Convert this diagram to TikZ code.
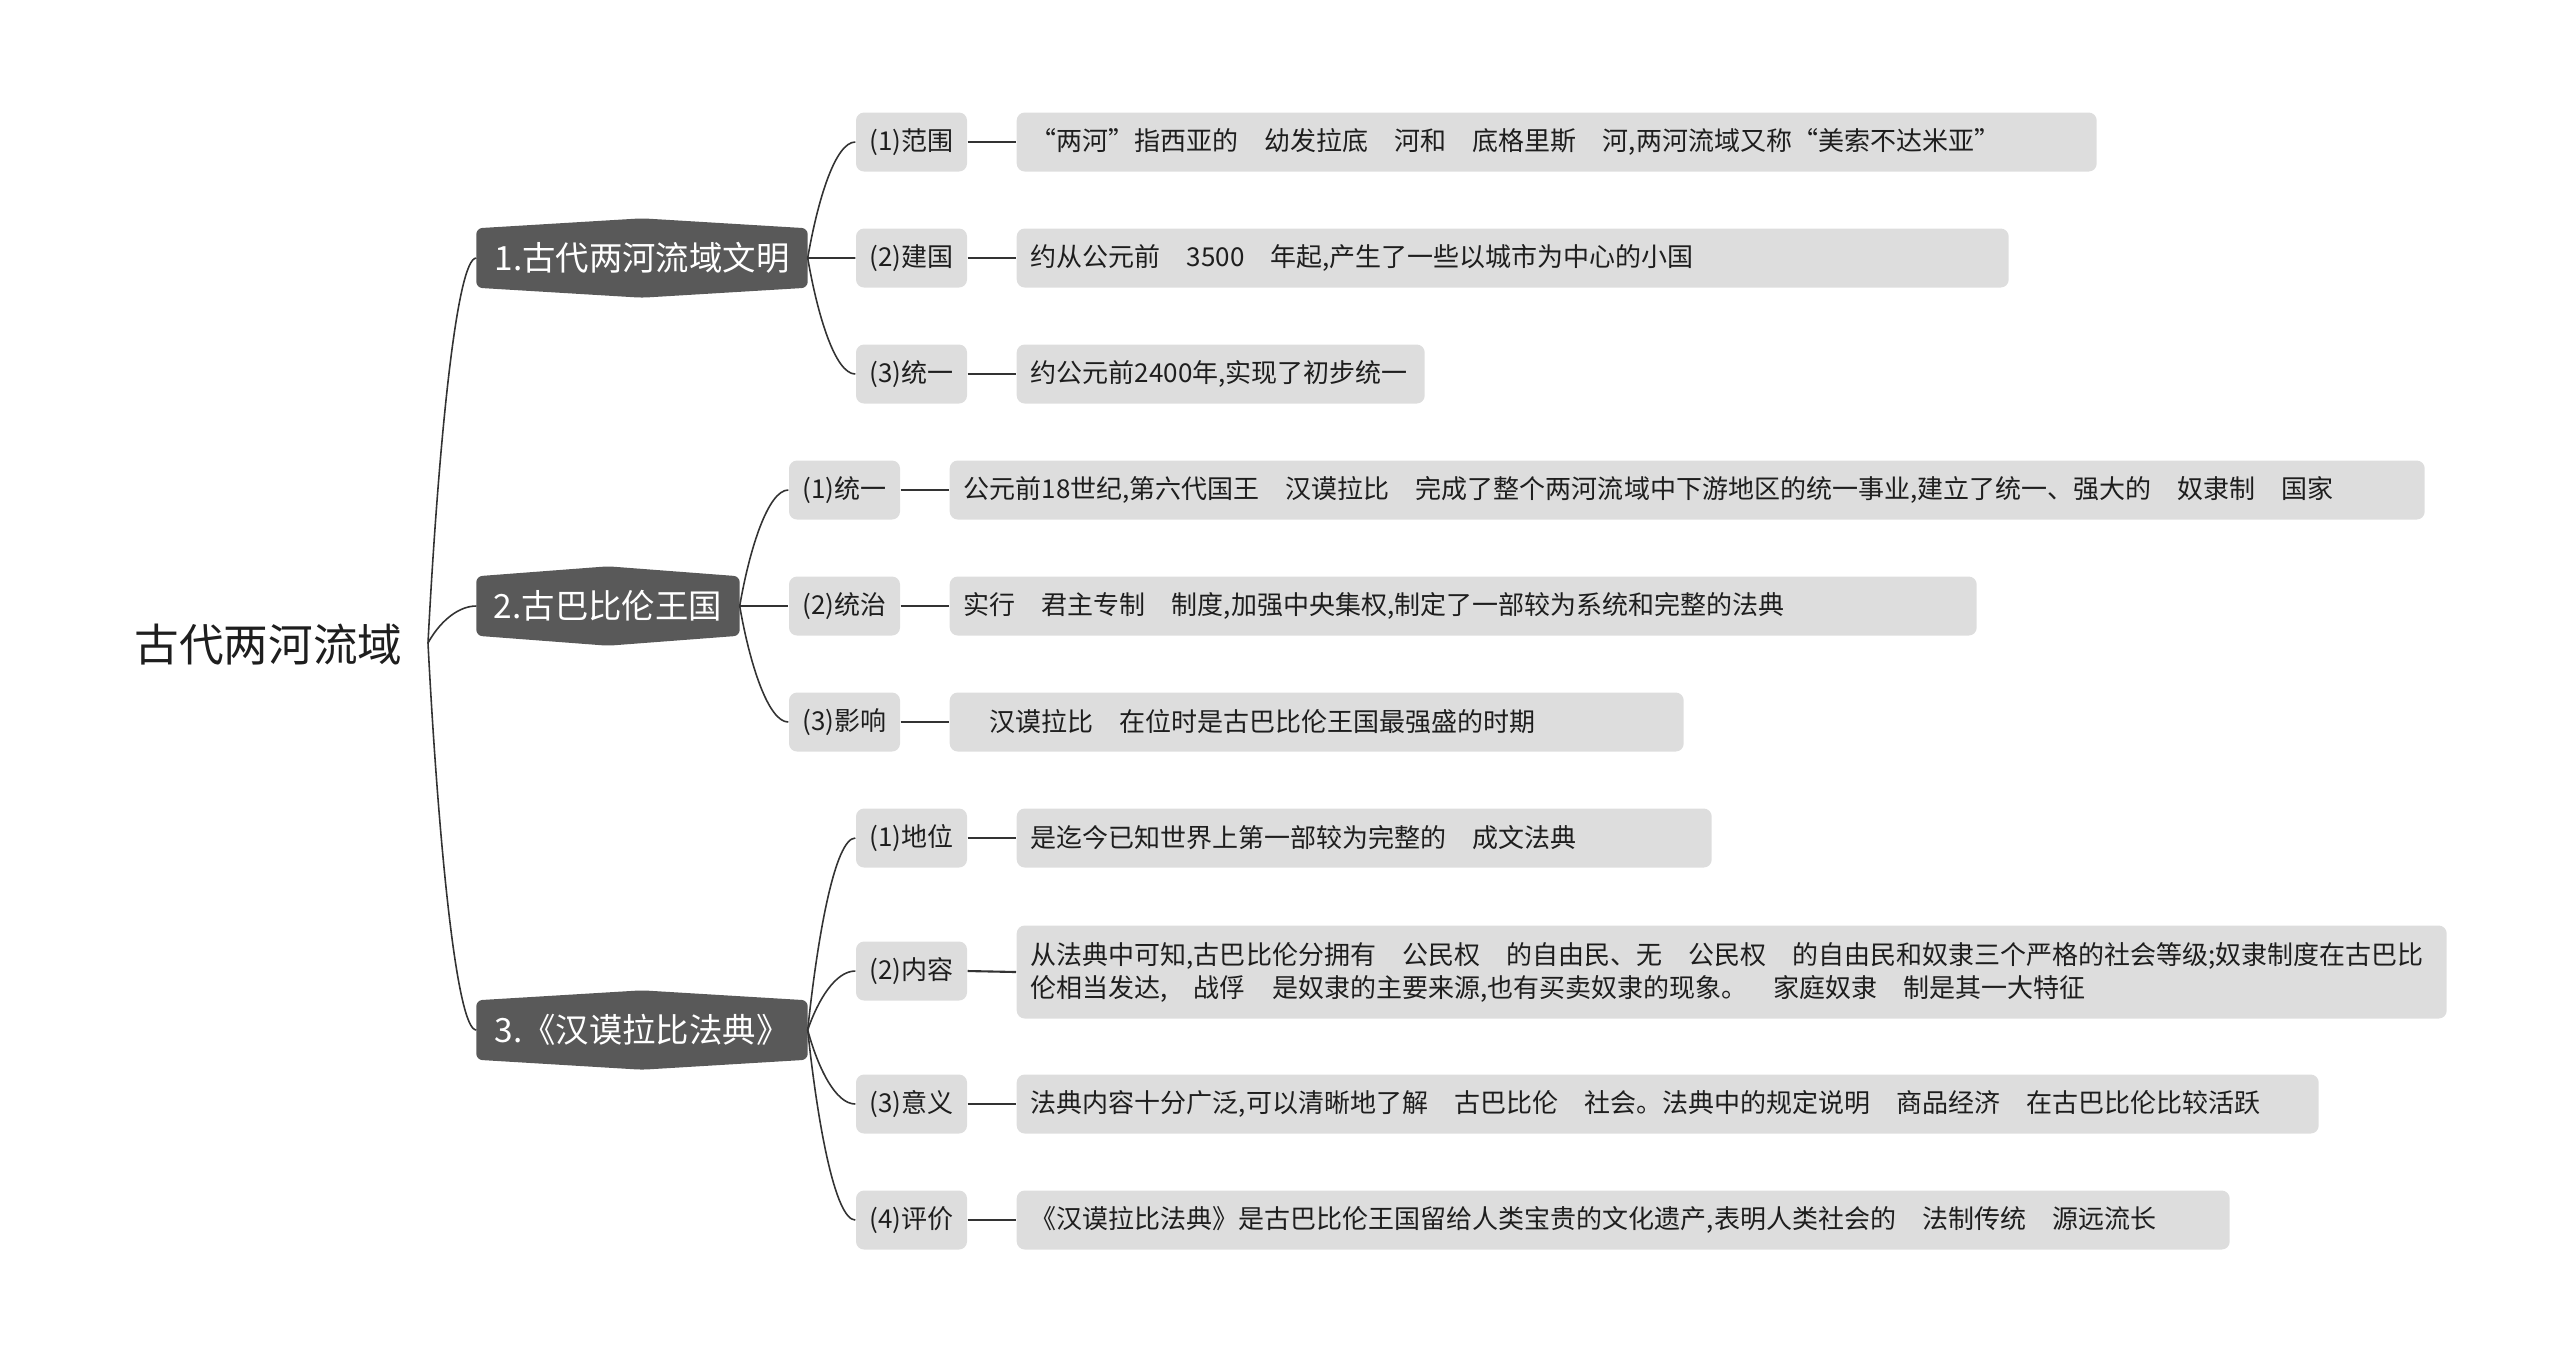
\documentclass[tikz,border=0pt]{standalone}
\usepackage{fontspec}
\setmainfont{Noto Sans CJK SC}
\usepackage{xcolor}
\definecolor{mmDark}{HTML}{595959}
\definecolor{mmLight}{HTML}{DDDDDD}
\definecolor{mmLine}{HTML}{333333}
\definecolor{mmText}{HTML}{1E1E1E}
\usepackage{tikz}
\usetikzlibrary{calc,backgrounds}

\tikzset{
  root/.style={anchor=east, inner sep=0pt, text=mmText, font=\fontsize{12.7}{14}\selectfont},
  topic/.style={inner sep=0pt, minimum height=0.58cm, text=white, font=\fontsize{9.5}{11}\selectfont},
  sub/.style={fill=mmLight, rounded corners=0.08cm, minimum width=1.11cm, minimum height=0.59cm,
              inner sep=0pt, text=mmText, font=\fontsize{7.4}{9.4}\selectfont},
  leaf/.style={anchor=west, fill=mmLight, rounded corners=0.08cm, text width=#1, align=left,
               minimum height=0.59cm, inner xsep=0.14cm, inner ysep=0pt, text=mmText,
               font=\fontsize{7.4}{9.4}\selectfont},
  branch/.style={mmLine, line width=0.45pt,
    to path={.. controls ($(\tikztostart)!0.5!(\tikztostart|-\tikztotarget)+(0.1,0)$)
                 and ($(\tikztotarget)+(-0.2,0)$) .. (\tikztotarget)}},
  twig/.style={mmLine, line width=0.6pt}
}

\begin{document}
\begin{tikzpicture}
  \useasboundingbox (0,0) rectangle (25.6,-13.64);

  % ---------------- centre and the three topics ----------------
  \node[root] (root) at (4.03,-6.45) {古代两河流域};
  \coordinate (rt) at (4.28,-6.43);
  \node[topic, minimum width=3.30cm] (b1) at (6.42,-2.58)  {1.古代两河流域文明};
  \node[topic, minimum width=2.62cm] (b2) at (6.08,-6.06)  {2.古巴比伦王国};
  \node[topic, minimum width=3.30cm] (b3) at (6.42,-10.30) {3.《汉谟拉比法典》};
  \begin{scope}[on background layer]
    \foreach \n in {b1,b2,b3}
      \fill[mmDark, rounded corners=0.06cm] (\n.south west) -- (\n.north west)
        -- ($(\n.north)+(0,0.1)$) -- (\n.north east) -- (\n.south east)
        -- ($(\n.south)+(0,-0.1)$) -- cycle;
  \end{scope}

  % ---------------- sub topics ----------------
  \node[sub] (s11) at (9.115,-1.42)  {(1)范围};
  \node[sub] (s12) at (9.115,-2.58)  {(2)建国};
  \node[sub] (s13) at (9.115,-3.74)  {(3)统一};
  \node[sub] (s21) at (8.445,-4.90)  {(1)统一};
  \node[sub] (s22) at (8.445,-6.06)  {(2)统治};
  \node[sub] (s23) at (8.445,-7.22)  {(3)影响};
  \node[sub] (s31) at (9.115,-8.38)  {(1)地位};
  \node[sub] (s32) at (9.115,-9.71)  {(2)内容};
  \node[sub] (s33) at (9.115,-11.04) {(3)意义};
  \node[sub] (s34) at (9.115,-12.20) {(4)评价};

  % ---------------- the notes ----------------
  \node[leaf=10.52cm] (l11) at (10.16,-1.42) {“两河”指西亚的\quad 幼发拉底\quad 河和\quad 底格里斯\quad 河,两河流域又称“美索不达米亚”};
  \node[leaf=9.64cm]  (l12) at (10.16,-2.58) {约从公元前\quad 3500\quad 年起,产生了一些以城市为中心的小国};
  \node[leaf=3.80cm]  (l13) at (10.16,-3.74) {约公元前2400年,实现了初步统一};
  \node[leaf=14.47cm] (l21) at (9.49,-4.90)  {公元前18世纪,第六代国王\quad 汉谟拉比\quad 完成了整个两河流域中下游地区的统一事业,建立了统一、强大的\quad 奴隶制\quad 国家};
  \node[leaf=9.99cm]  (l22) at (9.49,-6.06)  {实行\quad 君主专制\quad 制度,加强中央集权,制定了一部较为系统和完整的法典};
  \node[leaf=7.06cm]  (l23) at (9.49,-7.22)  {\hspace*{1em}汉谟拉比\quad 在位时是古巴比伦王国最强盛的时期};
  \node[leaf=6.67cm]  (l31) at (10.16,-8.38) {是迄今已知世界上第一部较为完整的\quad 成文法典};
  \node[leaf=14.02cm, minimum height=0.93cm] (l32) at (10.16,-9.72)
    {从法典中可知,古巴比伦分拥有\quad 公民权\quad 的自由民、无\quad 公民权\quad 的自由民和奴隶三个严格的社会等级;奴隶制度在古巴比\\
     伦相当发达,\quad 战俘\quad 是奴隶的主要来源,也有买卖奴隶的现象。\quad 家庭奴隶\quad 制是其一大特征};
  \node[leaf=12.74cm] (l33) at (10.16,-11.04) {法典内容十分广泛,可以清晰地了解\quad 古巴比伦\quad 社会。法典中的规定说明\quad 商品经济\quad 在古巴比伦比较活跃};
  \node[leaf=11.85cm] (l34) at (10.16,-12.20) {《汉谟拉比法典》是古巴比伦王国留给人类宝贵的文化遗产,表明人类社会的\quad 法制传统\quad 源远流长};

  % ---------------- connectors ----------------
  \foreach \b in {b1,b2,b3}
    \draw[branch] (rt) to (\b.west);
  \foreach \b/\s in {b1/s11,b1/s12,b1/s13,b2/s21,b2/s22,b2/s23,b3/s31,b3/s32,b3/s33,b3/s34}
    \draw[branch] (\b.east) to (\s.west);
  \foreach \s/\l in {s11/l11,s12/l12,s13/l13,s21/l21,s22/l22,s23/l23,s31/l31,s32/l32,s33/l33,s34/l34}
    \draw[twig] (\s.east) -- (\l.west);
\end{tikzpicture}
\end{document}
